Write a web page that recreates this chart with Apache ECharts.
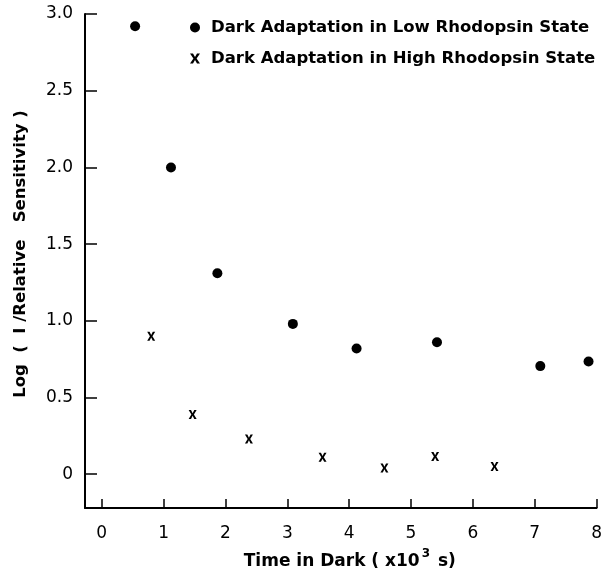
<!DOCTYPE html>
<html><head><meta charset="utf-8">
<script src="https://cdn.jsdelivr.net/npm/echarts@6/dist/echarts.min.js"></script>
<style>html,body{margin:0;padding:0;background:#fff}#c{width:605px;height:575px}</style>
</head><body><div id="c"></div>
<script>
const lowX = [0.54, 1.12, 1.87, 3.09, 4.12, 5.42, 7.09, 7.87];
const lowY = [2.92, 2.00, 1.31, 0.98, 0.82, 0.86, 0.705, 0.735];
const highX = [0.80, 1.47, 2.38, 3.57, 4.57, 5.39, 6.35];
const highY = [0.90, 0.39, 0.23, 0.11, 0.04, 0.115, 0.05];
const xTicks = [0, 1, 2, 3, 4, 5, 6, 7, 8];
const yTicks = [0, 0.5, 1.0, 1.5, 2.0, 2.5, 3.0];
const seriesNames = ['Dark Adaptation in Low Rhodopsin State', 'Dark Adaptation in High Rhodopsin State'];

const xShape = 'path://M0,0L3,0L5,3.6L7,0L10,0L6.6,5L10,10L7,10L5,6.4L3,10L0,10L3.4,5Z';
const font = 'DejaVu Sans';
const chart = echarts.init(document.getElementById('c'));
chart.setOption({
  animation: false,
  backgroundColor: '#fff',
  grid: { left: 85, right: 6, top: 14, bottom: 62 },
  legend: {
    orient: 'vertical', left: 185, top: 13, itemGap: 12,
    itemWidth: 10, itemHeight: 10,
    textStyle: { fontFamily: font, fontWeight: 'bold', fontSize: 16.5, color: '#000',
      padding: [0, 0, 0, 6], lineHeight: 19 },
    data: [
      { name: seriesNames[0], icon: 'circle' },
      { name: seriesNames[1], icon: xShape }
    ]
  },
  xAxis: {
    type: 'value', min: -0.27, max: 8,
    axisLine: { show: true, onZero: false, lineStyle: { color: '#000', width: 2 } },
    axisTick: { show: true, inside: true, length: 9, customValues: xTicks, lineStyle: { color: '#000', width: 1.5 } },
    axisLabel: { customValues: xTicks, fontFamily: font, fontSize: 17, color: '#000', margin: 17,
      formatter: v => String(v) },
    splitLine: { show: false },
    name: '{a|Time in Dark ( x10}{s|3}{a| s)}', nameLocation: 'middle', nameGap: 40,
    nameTextStyle: { padding: [0, 0, 0, 18], rich: {
      a: { fontFamily: font, fontWeight: 'bold', fontSize: 17, color: '#000', verticalAlign: 'bottom', lineHeight: 22 },
      s: { fontFamily: font, fontWeight: 'bold', fontSize: 12, color: '#000', verticalAlign: 'top', lineHeight: 22, padding: [0, 2, 9, 2] }
    } }
  },
  yAxis: {
    type: 'value', min: -0.22, max: 3.0,
    axisLine: { show: true, onZero: false, lineStyle: { color: '#000', width: 2 } },
    axisTick: { show: true, inside: true, length: 12, customValues: yTicks, lineStyle: { color: '#000', width: 1.5 } },
    axisLabel: { customValues: yTicks, fontFamily: font, fontSize: 17, color: '#000', margin: 12,
      formatter: v => v === 0 ? '0' : v.toFixed(1) },
    splitLine: { show: false },
    name: 'Log  (  I /Relative   Sensitivity )', nameLocation: 'middle', nameGap: 56, nameRotate: 90,
    nameTextStyle: { fontFamily: font, fontWeight: 'bold', fontSize: 16.5, color: '#000', padding: [0, 0, 0, 14] }
  },
  series: [
    { name: seriesNames[0], type: 'scatter', symbol: 'circle', symbolSize: 10,
      itemStyle: { color: '#000', opacity: 1 },
      data: lowX.map((x, i) => [x, lowY[i]]) },
    { name: seriesNames[1], type: 'scatter', symbol: xShape, symbolSize: [8, 9],
      itemStyle: { color: '#000', opacity: 1 },
      data: highX.map((x, i) => [x, highY[i]]) }
  ]
});
</script></body></html>
